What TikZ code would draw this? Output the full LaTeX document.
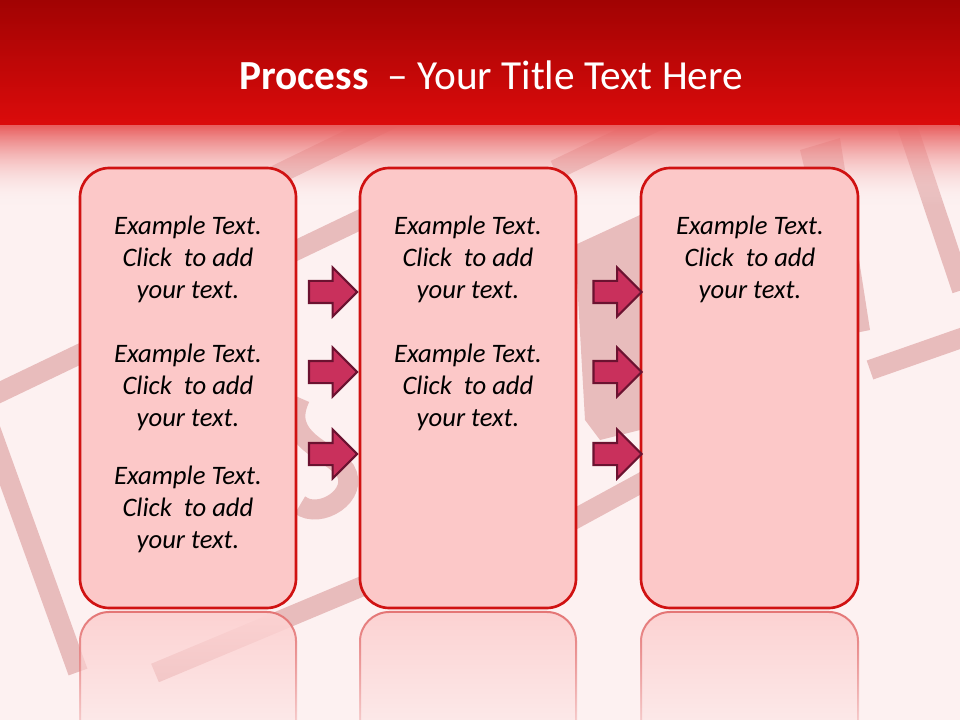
\documentclass[tikz,border=0pt]{standalone}
\usepackage{fontspec}
\setmainfont{Carlito}
\usetikzlibrary{shapes.arrows,fadings}
\definecolor{bg}{HTML}{FDF1F1}
\definecolor{hdtop}{HTML}{A10303}
\definecolor{hdbot}{HTML}{DC0B0B}
\definecolor{boxfill}{HTML}{FCC8C8}
\definecolor{boxline}{HTML}{D01212}
\definecolor{arrfill}{HTML}{C9305C}
\definecolor{arrline}{HTML}{6B1230}
\definecolor{stamp}{HTML}{E8BCBC}
\begin{document}
\begin{tikzpicture}[x=0.75pt,y=-0.75pt,
  procbox/.style={draw=boxline,line width=2pt,fill=boxfill,rounded corners=22pt},
  reflbox/.style={draw=boxline!55!bg,line width=1.5pt,fill=boxfill!75!bg,rounded corners=22pt,path fading=south},
  parrow/.style={single arrow,draw=arrline,fill=arrfill,line width=1.6pt,inner sep=0pt,
     minimum height=36pt,minimum width=35pt,single arrow head extend=10pt,inner ysep=7.5pt,anchor=center},
  btext/.style={align=center,font=\fontsize{20}{24}\selectfont\itshape,text=black},
  stampline/.style={draw=stamp,line width=15pt},
  stampfill/.style={fill=stamp}
]
\useasboundingbox (0,0) rectangle (960,720);
\fill[bg] (0,0) rectangle (960,720);
% faded stamp in background
\begin{scope}
\clip (0,125) rectangle (960,720);
\draw[stampline] (-10,397) -- (370,215);
\draw[stampline] (270,178) -- (420,105);
\draw[stampline] (555,170) -- (680,110);
\draw[stampline] (155,673) -- (370,583);
\draw[stampline] (560,527) -- (650,478);
\draw[stampline] (870,370) -- (970,335);
\draw[stampline] (-10,428) -- (78,672);
\draw[stampline] (905,120) -- (962,290);
\draw[stampline] (300,398) .. controls (280,440) and (330,450) .. (345,470)
   .. controls (360,495) and (320,520) .. (300,505);
\fill[stampfill] (575,245) -- (640,215) -- (640,430) -- (600,440) -- (585,420) -- cycle;
\fill[stampfill] (800,150) -- (840,138) -- (870,330) -- (845,335) -- cycle;
\end{scope}
% header
\shade[top color=hdtop,bottom color=hdbot] (0,0) rectangle (960,126);
\shade[top color=hdbot!65!white,bottom color=bg,path fading=south] (0,126) rectangle (960,205);
\node[text=white,font=\fontsize{31}{37}\selectfont] (title) at (491,75)
  {\textbf{Process}\ \ – Your Title Text Here};
% reflections
\begin{scope}
\clip (0,610) rectangle (960,720);
\draw[reflbox] (80,612) rectangle (296,760);
\draw[reflbox] (360,612) rectangle (576,760);
\draw[reflbox] (641,612) rectangle (858,760);
\end{scope}
% boxes
\draw[procbox] (80,168) rectangle (296,608);
\draw[procbox] (360,168) rectangle (576,608);
\draw[procbox] (641,168) rectangle (858,608);
% arrows
\node[parrow] (a11) at (327.5,292) {};
\node[parrow] (a12) at (327.5,372) {};
\node[parrow] (a13) at (327.5,454) {};
\node[parrow] (a21) at (612,292) {};
\node[parrow] (a22) at (612,372) {};
\node[parrow] (a23) at (612,454) {};
% texts
\foreach \nm/\xx/\yy in {t11/188/259, t12/188/387, t13/188/509, t21/468/259, t22/468/387, t31/750/259}{
  \node[btext] (\nm) at (\xx,\yy) {Example Text.\\Click\ \ to add\\your text.};
}
\end{tikzpicture}
\end{document}
